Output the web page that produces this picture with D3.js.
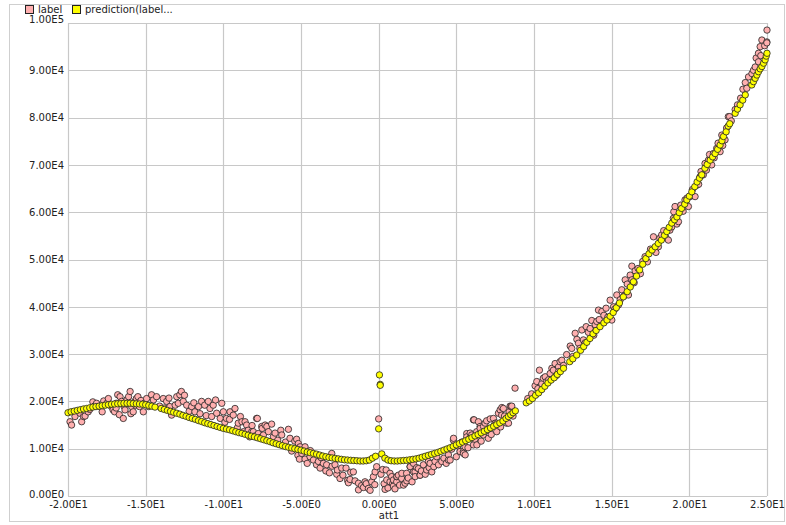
<!DOCTYPE html>
<html lang="en">
<head>
    <meta charset="UTF-8">
    <title>label vs prediction</title>
    <script src="https://d3js.org/d3.v7.min.js"></script>
    <style>
        body { margin: 0; background: #fff; }
        text { font-family: "DejaVu Sans", sans-serif; font-size: 10px; fill: #222; }
    </style>
</head>
<body>
    <svg width="786" height="525"></svg>
    <script>
        // tick values of both axes
        const xTicks = [-20, -15, -10, -5, 0, 5, 10, 15, 20, 25];
        const yTicks = [0, 10000, 20000, 30000, 40000, 50000, 60000, 70000, 80000, 90000, 100000];

        const seriesNames = ["label", "prediction(label..."];

        // label values [att1, label]
        const labelPoints = [
            [-19.87,15700],[-19.77,15000],[-19.55,16800],[-19.23,17500],[-19.12,15700],[-19.0,16800],[-18.9,16900],
            [-18.7,17800],[-18.6,18300],[-18.4,19900],[-18.3,19000],[-18.16,19600],[-17.94,18900],[-17.8,17800],
            [-17.7,20100],[-17.5,19600],[-17.4,20600],[-17.3,19300],[-17.2,18900],[-17.1,18200],[-17.0,17800],
            [-16.9,19600],[-16.9,18600],[-16.8,21400],[-16.7,17200],[-16.65,21000],[-16.55,20000],[-16.44,16400],
            [-16.4,19000],[-16.33,18200],[-16.2,19600],[-16.2,20400],[-16.1,21000],[-16.0,22100],[-15.95,17400],
            [-15.9,18900],[-15.8,17800],[-15.7,20000],[-15.65,19200],[-15.6,20600],[-15.5,21000],[-15.4,18900],
            [-15.3,20200],[-15.15,17800],[-15.1,19600],[-14.94,20600],[-14.8,18900],[-14.62,21400],[-14.5,20300],
            [-14.3,21000],[-14.1,19000],[-13.87,20600],[-13.8,18600],[-13.65,20000],[-13.5,20700],[-13.44,18900],
            [-13.33,17100],[-13.1,19200],[-13.0,21000],[-12.9,19600],[-12.8,21400],[-12.7,22100],[-12.58,20000],
            [-12.5,21300],[-12.36,19200],[-12.2,17900],[-12.04,18900],[-11.9,19700],[-11.83,17800],[-11.6,18900],
            [-11.5,17400],[-11.4,20000],[-11.2,19200],[-11.1,17000],[-10.97,20000],[-10.86,18500],[-10.75,16800],
            [-10.65,19200],[-10.5,20300],[-10.43,17500],[-10.2,16400],[-10.1,19600],[-10.0,17800],[-9.9,15600],
            [-9.8,16400],[-9.6,16200],[-9.57,17800],[-9.36,17100],[-9.25,18500],[-9.1,14400],[-9.04,15400],
            [-8.9,16800],[-8.8,15700],[-8.7,13600],[-8.6,15700],[-8.5,15000],[-8.4,13900],[-8.3,12500],
            [-8.17,13600],[-8.15,14900],[-8.07,13600],[-7.95,12700],[-7.86,16400],[-7.81,16400],[-7.75,13200],
            [-7.6,12400],[-7.53,14700],[-7.5,14300],[-7.42,12900],[-7.31,15000],[-7.2,14700],[-7.1,13600],
            [-6.89,15200],[-6.78,12500],[-6.67,13300],[-6.5,11800],[-6.3,13900],[-6.24,12900],[-6.0,11400],
            [-5.81,14100],[-5.71,12200],[-5.6,9500],[-5.4,11600],[-5.28,12000],[-5.2,8600],[-5.17,11100],
            [-5.1,7800],[-5.06,10400],[-4.95,9000],[-4.74,10400],[-4.74,7800],[-4.6,6900],[-4.42,8300],
            [-4.4,9600],[-4.2,7600],[-4.0,6600],[-3.88,7300],[-3.77,5900],[-3.7,8100],[-3.56,6900],
            [-3.4,5300],[-3.35,6600],[-3.17,4900],[-3.02,9000],[-3.0,6300],[-2.81,6600],[-2.7,4600],
            [-2.66,5500],[-2.49,3700],[-2.38,5900],[-2.3,4400],[-2.1,5900],[-2.0,3300],[-1.95,2800],
            [-1.84,3500],[-1.8,5000],[-1.63,5100],[-1.52,3200],[-1.3,2700],[-1.3,1300],[-1.1,2200],
            [-0.98,1800],[-0.88,3000],[-0.8,2600],[-0.66,1600],[-0.55,1200],[-0.45,3000],[-0.34,4100],
            [-0.25,2400],[-0.23,5100],[-0.13,6200],[0.0,16300],[0.15,4600],[0.26,5600],[0.35,2600],
            [0.41,1400],[0.48,5500],[0.52,3400],[0.6,1700],[0.73,3000],[0.73,4800],[0.84,4100],
            [0.9,2600],[0.95,2100],[0.95,3400],[1.05,1500],[1.16,3000],[1.16,4100],[1.17,4100],
            [1.27,4400],[1.35,2300],[1.48,3700],[1.49,4800],[1.6,2300],[1.7,2700],[1.8,4800],
            [1.81,3200],[1.9,3800],[2.02,6200],[2.03,6200],[2.15,3000],[2.24,6900],[2.24,5100],
            [2.34,5100],[2.35,4100],[2.45,6000],[2.56,5800],[2.66,4400],[2.67,4400],[2.75,5300],
            [2.88,6600],[3.0,4600],[3.09,5500],[3.2,7300],[3.25,6000],[3.31,6900],[3.42,5100],
            [3.55,6200],[3.63,7300],[3.74,8300],[3.85,6600],[4.06,7300],[4.2,8000],[4.35,6900],
            [4.49,8700],[4.49,7600],[4.6,7600],[4.7,9900],[4.81,11800],[4.82,12200],[5.0,8300],
            [5.1,10600],[5.24,9400],[5.35,11400],[5.45,9400],[5.46,9000],[5.56,10400],[5.57,8700],
            [5.67,13200],[5.67,12500],[5.75,10200],[5.88,12200],[5.89,13300],[5.99,12900],[6.1,16100],
            [6.1,10800],[6.14,16100],[6.2,12000],[6.31,13600],[6.32,10800],[6.42,15700],[6.53,14700],
            [6.53,14300],[6.6,11600],[6.74,12900],[6.75,14700],[6.85,15400],[6.85,13700],[6.95,15900],
            [7.06,12200],[7.17,14300],[7.18,16300],[7.25,13000],[7.39,16400],[7.45,15000],[7.5,15400],
            [7.6,15400],[7.6,13600],[7.71,17500],[7.82,18200],[7.85,14600],[7.92,17100],[7.93,18700],
            [8.03,18500],[8.1,16900],[8.24,15400],[8.36,15400],[8.4,17800],[8.46,19000],[8.53,18900],
            [8.57,19000],[8.65,16900],[8.78,22800],[9.6,20600],[9.85,21600],[10.07,23300],[10.18,24200],
            [10.25,22700],[10.35,26600],[10.5,23700],[10.6,24900],[10.72,25200],[10.82,24200],[10.95,24600],
            [11.04,25900],[11.15,27000],[11.25,26600],[11.36,28000],[11.45,25500],[11.58,27300],[11.58,26300],
            [11.68,28400],[11.79,28700],[11.9,27600],[12.1,29900],[12.33,31700],[12.43,31200],[12.5,29500],
            [12.65,34400],[12.76,33100],[12.86,32300],[12.95,31200],[13.08,35100],[13.18,33000],[13.3,32400],
            [13.36,35800],[13.5,34600],[13.61,35400],[13.72,37100],[13.85,34000],[13.94,36200],[14.04,36900],
            [14.15,39300],[14.2,37300],[14.37,39000],[14.5,38200],[14.64,39700],[14.75,37800],[14.9,41400],
            [15.01,37200],[15.12,40000],[15.2,39500],[15.33,42500],[15.44,40400],[15.55,41500],[15.65,43600],
            [15.8,42300],[15.87,45700],[16.0,44800],[16.08,42500],[16.19,46700],[16.3,48600],[16.3,45700],
            [16.45,45100],[16.51,47600],[16.7,48100],[16.85,47000],[17.0,49600],[17.15,50600],[17.3,49500],
            [17.5,52200],[17.69,54800],[17.85,51500],[18.01,52700],[18.1,54500],[18.22,55200],[18.35,56100],
            [18.5,54600],[18.65,54100],[18.75,56200],[18.87,56900],[18.97,58700],[19.0,60100],[19.08,61200],
            [19.2,57500],[19.3,58000],[19.45,61500],[19.6,60200],[19.72,62600],[19.85,63000],[19.94,61200],
            [20.05,63300],[20.2,64800],[20.37,63300],[20.48,65700],[20.6,65900],[20.69,67500],[20.75,68600],
            [20.9,67900],[21.01,70300],[21.1,68900],[21.23,71000],[21.3,72200],[21.44,70000],[21.55,72400],
            [21.6,71500],[21.76,73500],[21.85,74600],[21.98,72800],[22.09,76300],[22.15,74100],[22.3,75300],
            [22.4,77800],[22.51,80200],[22.59,80200],[22.7,79300],[22.95,81700],[23.1,82700],[23.3,84100],
            [23.45,86000],[23.6,87400],[23.7,86200],[23.81,88600],[24.03,89300],[24.13,90000],[24.24,90700],
            [24.3,92600],[24.45,91800],[24.45,93600],[24.56,95000],[24.6,93100],[24.67,96400],[24.85,95200],
            [24.99,96000],[24.99,95800],[25.0,98500]
        ];

        // prediction values [att1, prediction(label)]
        const predictionPoints = [
            [-20.0,17600],[-19.8,17800],[-19.6,17950],[-19.4,18100],[-19.2,18250],[-19.0,18400],[-18.8,18500],
            [-18.6,18650],[-18.4,18800],[-18.2,18900],[-18.0,19000],[-17.8,19100],[-17.6,19200],[-17.4,19300],
            [-17.2,19400],[-17.0,19450],[-16.8,19500],[-16.6,19550],[-16.4,19600],[-16.2,19600],[-16.0,19600],
            [-15.8,19550],[-15.6,19500],[-15.4,19450],[-15.2,19400],[-15.0,19300],[-14.8,19150],[-14.6,19000],
            [-14.4,18800],[-14.0,18500],[-13.8,18300],[-13.6,18100],[-13.4,17900],[-13.2,17700],[-13.0,17500],
            [-12.8,17300],[-12.6,17050],[-12.4,16850],[-12.2,16600],[-12.0,16400],[-11.8,16200],[-11.6,15950],
            [-11.4,15750],[-11.2,15500],[-11.0,15300],[-10.8,15100],[-10.6,14900],[-10.4,14700],[-10.2,14500],
            [-10.0,14300],[-9.8,14150],[-9.6,14000],[-9.4,13800],[-9.2,13600],[-9.0,13400],[-8.8,13250],
            [-8.6,13050],[-8.4,12850],[-8.2,12650],[-8.0,12500],[-7.8,12300],[-7.6,12100],[-7.4,11900],
            [-7.2,11700],[-7.0,11500],[-6.8,11250],[-6.6,11050],[-6.4,10850],[-6.2,10650],[-6.0,10450],
            [-5.8,10300],[-5.6,10150],[-5.4,10000],[-5.2,9850],[-5.0,9700],[-4.8,9500],[-4.6,9300],
            [-4.4,9150],[-4.2,9000],[-4.0,8850],[-3.8,8650],[-3.6,8450],[-3.4,8300],[-3.2,8150],
            [-3.0,8050],[-2.8,7950],[-2.6,7850],[-2.4,7750],[-2.2,7650],[-2.0,7600],[-1.8,7550],
            [-1.6,7500],[-1.4,7450],[-1.2,7400],[-1.0,7400],[-0.8,7450],[-0.6,7600],[-0.4,8000],
            [-0.2,8400],[0.05,25600],[0.1,23600],[0.1,23400],[0.0,14200],[0.2,8900],[0.4,8000],
            [0.6,7600],[0.8,7450],[1.0,7400],[1.2,7400],[1.4,7450],[1.6,7500],[1.8,7550],
            [2.0,7650],[2.2,7750],[2.4,7850],[2.6,8000],[2.8,8200],[3.0,8400],[3.2,8600],
            [3.4,8800],[3.6,9000],[3.8,9200],[4.0,9450],[4.2,9700],[4.4,9950],[4.6,10200],
            [4.8,10500],[5.0,10800],[5.2,11100],[5.4,11400],[5.6,11700],[5.8,12000],[6.0,12350],
            [6.2,12700],[6.4,13000],[6.6,13350],[6.8,13700],[7.0,14050],[7.2,14400],[7.4,14750],
            [7.6,15100],[7.8,15450],[8.0,15850],[8.2,16400],[8.35,16800],[8.5,17200],[8.65,17600],
            [8.8,18000],[9.5,19700],[9.7,20100],[9.9,20600],[10.1,21300],[10.3,21800],[10.5,22500],
            [10.7,23200],[10.9,23900],[11.1,24500],[11.3,25000],[11.5,25700],[11.7,26300],[11.9,27000],
            [12.3,28400],[12.5,29000],[12.75,29800],[13.0,30800],[13.2,31600],[13.4,32500],[13.6,33300],
            [13.8,34300],[14.0,35000],[14.25,35800],[14.5,36600],[14.7,37200],[14.9,38000],[15.1,38800],
            [15.3,39800],[15.5,40800],[15.75,42100],[16.0,43200],[16.2,44200],[16.4,45300],[16.6,46500],
            [16.8,47800],[17.0,49000],[17.2,50200],[17.4,51200],[17.6,52000],[17.8,52700],[18.0,53400],
            [18.2,54100],[18.4,55100],[18.55,55900],[18.7,56800],[18.87,57700],[19.05,58400],[19.2,59000],
            [19.35,59900],[19.5,60800],[19.7,61700],[19.84,62600],[20.0,63400],[20.16,64300],[20.35,65400],
            [20.5,66400],[20.65,67200],[20.8,67900],[21.0,69300],[21.15,70100],[21.34,71000],[21.5,71700],
            [21.66,72400],[21.82,73300],[21.98,74200],[22.1,75100],[22.2,76000],[22.37,77000],[22.5,78200],
            [22.6,78700],[22.95,80900],[23.1,81800],[23.27,82700],[23.44,83700],[23.6,84800],[24.02,86900],
            [24.13,87600],[24.24,88300],[24.35,89000],[24.45,89700],[24.56,90300],[24.67,90800],[24.78,91500],
            [24.88,92200],[24.95,93000],[25.0,93600]
        ];

        const colors = ["#ffafaf", "#ffff00"];

        // plot area
        const plotLeft = 68, plotRight = 767, plotTop = 23, plotBottom = 496;

        const svg = d3.select("svg");

        const x = d3.scaleLinear().domain([-20, 25]).range([plotLeft, plotRight]);
        const y = d3.scaleLinear().domain([0, 100000]).range([plotBottom, plotTop]);

        // 1.00E5 style labels
        function sci(v) {
            if (v === 0) return "0.00E0";
            const e = Math.floor(Math.log10(Math.abs(v)));
            return (v / Math.pow(10, e)).toFixed(2) + "E" + e;
        }

        // outer panel
        svg.append("rect")
            .attr("x", 9.5).attr("y", 4.5)
            .attr("width", 775).attr("height", 517)
            .attr("fill", "none")
            .attr("stroke", "#cfcfcf");

        // grid
        svg.append("g").selectAll("line")
            .data(xTicks)
            .join("line")
            .attr("x1", d => Math.round(x(d)) + 0.5).attr("x2", d => Math.round(x(d)) + 0.5)
            .attr("y1", plotTop).attr("y2", plotBottom)
            .attr("stroke", "#c8c8c8").attr("stroke-width", 1.2);

        svg.append("g").selectAll("line")
            .data(yTicks)
            .join("line")
            .attr("y1", d => Math.round(y(d)) + 0.5).attr("y2", d => Math.round(y(d)) + 0.5)
            .attr("x1", plotLeft).attr("x2", plotRight)
            .attr("stroke", "#c8c8c8").attr("stroke-width", 1.2);

        // axes, labels only
        const xAxis = svg.append("g")
            .attr("transform", `translate(0,${plotBottom})`)
            .call(d3.axisBottom(x).tickValues(xTicks).tickFormat(sci).tickSize(0).tickPadding(5));
        xAxis.select(".domain").remove();

        const yAxis = svg.append("g")
            .attr("transform", `translate(${plotLeft - 2},0)`)
            .call(d3.axisLeft(y).tickValues(yTicks).tickFormat(sci).tickSize(0).tickPadding(2));
        yAxis.select(".domain").remove();
        yAxis.selectAll(".tick text").filter(d => d === 100000).attr("dy", "-0.1em");
        yAxis.selectAll(".tick text").filter(d => d === 0).attr("dy", "0.1em");

        svg.selectAll(".tick text")
            .style("font-family", "'DejaVu Sans', sans-serif")
            .style("font-size", "10px")
            .attr("fill", "#222");

        svg.append("text")
            .attr("x", 389).attr("y", 519)
            .attr("text-anchor", "middle")
            .text("att1");

        // points
        svg.append("g").selectAll("circle")
            .data(labelPoints)
            .join("circle")
            .attr("cx", d => x(d[0]))
            .attr("cy", d => y(d[1]))
            .attr("r", 3.2)
            .attr("fill", colors[0])
            .attr("stroke", "#222")
            .attr("stroke-width", 0.8);

        svg.append("g").selectAll("circle")
            .data(predictionPoints)
            .join("circle")
            .attr("cx", d => x(d[0]))
            .attr("cy", d => y(d[1]))
            .attr("r", 3.2)
            .attr("fill", colors[1])
            .attr("stroke", "#222")
            .attr("stroke-width", 0.8);

        // legend
        const legendX = [25, 72];
        const legend = svg.append("g").selectAll("g")
            .data(seriesNames)
            .join("g")
            .attr("transform", (d, i) => `translate(${legendX[i]},5)`);
        legend.append("rect")
            .attr("x", 0.5).attr("y", 0.5)
            .attr("width", 8).attr("height", 8)
            .attr("fill", (d, i) => colors[i])
            .attr("stroke", "#222");
        legend.append("text")
            .attr("x", 13).attr("y", 8)
            .text(d => d);
    </script>
</body>
</html>
